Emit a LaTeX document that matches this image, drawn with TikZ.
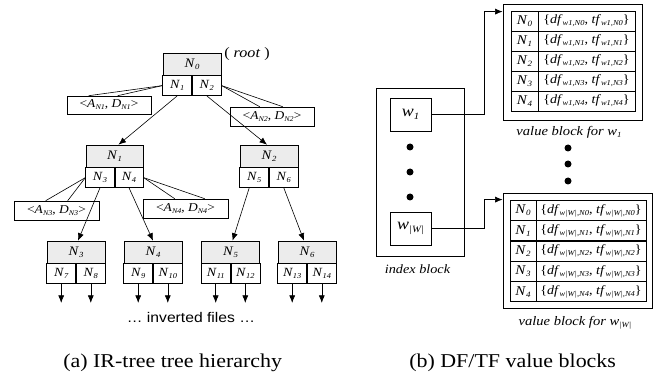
\documentclass[tikz,border=0pt]{standalone}
\usepackage{graphicx}
\usepackage{fontspec}
\setmainfont[FakeStretch=1.12]{Liberation Serif}
\setsansfont[FakeStretch=1.12]{Liberation Sans}
\usetikzlibrary{arrows.meta}
\newcommand\Ni[2]{\textit{#1}\raisebox{-0.35ex}{\scalebox{0.6}{\itshape #2}}}
\newcommand\TreeNode[7]{% name, cx, top, label, left, right, width
 \node[hdr, minimum width=#7] (#1) at (#2,#3+11) {#4};
 \node[cellbox, minimum width=#7/2, anchor=north east] (#1a) at (#1.south) {#5};
 \node[cellbox, minimum width=#7/2, anchor=north west] (#1b) at (#1.south) {#6};
}
\begin{document}
\begin{tikzpicture}[x=1pt,y=-1pt,
  line width=0.6pt,
  hdr/.style={draw, fill=gray!15, inner sep=0pt, minimum height=22pt, font=\fontsize{13}{14}\selectfont},
  cellbox/.style={draw, inner sep=0pt, minimum height=20pt, font=\fontsize{12.5}{14}\selectfont},
  callbox/.style={draw, fill=white, inner sep=0pt, font=\fontsize{12}{14}\selectfont},
  arr/.style={-{Latex[length=7.5pt,width=6pt]}},
  dot/.style={circle, fill=black, inner sep=0pt, minimum size=7pt},
  tcell/.style={draw, inner sep=0pt, minimum height=20pt, font=\fontsize{12.6}{14}\selectfont},
  lbl/.style={inner sep=0pt, font=\fontsize{13}{14}\selectfont\itshape}
]
\useasboundingbox (0,0) rectangle (659,374);

% ---------- tree ----------
\TreeNode{n0}{192}{53}{\Ni{N}{0}}{\Ni{N}{1}}{\Ni{N}{2}}{58}
\TreeNode{n1}{114.5}{145}{\Ni{N}{1}}{\Ni{N}{3}}{\Ni{N}{4}}{57}
\TreeNode{n2}{269}{145}{\Ni{N}{2}}{\Ni{N}{5}}{\Ni{N}{6}}{58}
\TreeNode{n3}{76}{241}{\Ni{N}{3}}{\Ni{N}{7}}{\Ni{N}{8}}{58}
\TreeNode{n4}{153}{241}{\Ni{N}{4}}{\Ni{N}{9}}{\Ni{N}{10}}{58}
\TreeNode{n5}{230.5}{241}{\Ni{N}{5}}{\Ni{N}{11}}{\Ni{N}{12}}{58}
\TreeNode{n6}{307}{241}{\Ni{N}{6}}{\Ni{N}{13}}{\Ni{N}{14}}{58}

\node[inner sep=0pt, font=\fontsize{14.4}{15}\selectfont] (root) at (247,54) {( \textit{root} )};

% callouts
\node[callbox, minimum width=84pt, minimum height=18pt] (c1) at (109,105) {\textless\Ni{A}{N1}, \Ni{D}{N1}\textgreater};
\node[callbox, minimum width=84pt, minimum height=19pt] (c2) at (272,116.5) {\textless\Ni{A}{N2}, \Ni{D}{N2}\textgreater};
\node[callbox, minimum width=85pt, minimum height=19pt] (c3) at (56.5,210.5) {\textless\Ni{A}{N3}, \Ni{D}{N3}\textgreater};
\node[callbox, minimum width=85pt, minimum height=19pt] (c4) at (185.5,208.5) {\textless\Ni{A}{N4}, \Ni{D}{N4}\textgreater};
\draw (n0a.west) -- ([xshift=22pt]c1.north west);
\draw (n0a.west) -- ([xshift=51pt]c1.north west);
\draw (n0b.east) -- ([xshift=30pt]c2.north west);
\draw (n0b.east) -- ([xshift=53pt]c2.north west);
\draw (n1a.west) -- ([xshift=32pt]c3.north west);
\draw (n1a.west) -- ([xshift=54pt]c3.north west);
\draw (n1b.east) -- ([xshift=32pt]c4.north west);
\draw (n1b.east) -- ([xshift=62pt]c4.north west);

% tree arrows
\draw[arr] (n0a.south) -- ([xshift=4pt]n1.north);
\draw[arr] (n0b.south) -- ([xshift=-2pt]n2.north);
\draw[arr] (n1a.south) -- ([xshift=2pt]n3.north);
\draw[arr] (n1b.south) -- (n4.north);
\draw[arr] ([xshift=-5pt]n2a.south) -- ([xshift=2pt]n5.north);
\draw[arr] (n2b.south) -- ([xshift=-3pt]n6.north);
\foreach \n in {n3,n4,n5,n6}{
  \draw[arr] (\n a.south) -- ++(0,19);
  \draw[arr] (\n b.south) -- ++(0,19);
}
\node[inner sep=0pt, font=\sffamily\fontsize{14}{15}\selectfont] (inv) at (191,317) {… inverted files …};

% ---------- index block ----------
\node[draw, minimum width=88pt, minimum height=168pt, inner sep=0pt] (idx) at (420,172) {};
\node[draw, minimum width=41pt, minimum height=33pt, inner sep=0pt, font=\fontsize{16}{18}\selectfont] (w1) at (410.5,114.5) {\Ni{w}{1}};
\node[draw, minimum width=41pt, minimum height=33pt, inner sep=0pt, font=\fontsize{16}{18}\selectfont] (wW) at (410.5,228.5) {\Ni{w}{|W|}};
\node[dot] (i1) at (410,147) {};
\node[dot] (i2) at (410,172) {};
\node[dot] (i3) at (410,197) {};
\node[lbl, font=\fontsize{12.7}{14}\selectfont\itshape] (idxl) at (417.5,269) {index block};

% ---------- value blocks ----------
\node[draw, line width=0.8pt, minimum width=139pt, minimum height=116pt, inner sep=0pt] (vb1) at (572.5,62) {};
\foreach \i in {0,...,4}{
  \node[tcell, minimum width=27pt, font=\fontsize{13.4}{14}\selectfont] (a\i) at (524.5,21+20*\i) {\Ni{N}{\i}};
  \node[tcell, minimum width=97pt] (b\i) at (586.5,21+20*\i) {\{\Ni{df}{w1,N\i}, \Ni{tf}{w1,N\i}\}};
}
\node[lbl] (vl1) at (569,132) {value block for \Ni{w}{1}};

\node[dot] (v1) at (568,148) {};
\node[dot] (v2) at (568,164) {};
\node[dot] (v3) at (568,181) {};

\node[draw, line width=0.8pt, minimum width=149pt, minimum height=115pt, inner sep=0pt] (vb2) at (577.5,250.5) {};
\foreach \i in {0,...,4}{
  \node[tcell, minimum width=26pt, font=\fontsize{13.4}{14}\selectfont] (p\i) at (523,210.5+20.3*\i) {\Ni{N}{\i}};
  \node[tcell, minimum width=110pt] (q\i) at (591,210.5+20.3*\i) {\{\Ni{df}{w|W|,N\i}, \Ni{tf}{w|W|,N\i}\}};
}
\node[lbl] (vl2) at (575,322.5) {value block for \Ni{w}{|W|}};

\draw[arr] (w1.east) -- ++(53,0) |- ([yshift=-8pt]vb1.north west);
\draw[arr] (wW.east) -- ++(53,0) |- ([yshift=-7pt]vb2.north west);

% ---------- captions ----------
\node[inner sep=0pt, anchor=base west, font=\fontsize{19.6}{21}\selectfont] (capa) at (63,367) {(a) IR-tree tree hierarchy};
\node[inner sep=0pt, anchor=base west, font=\fontsize{19.6}{21}\selectfont] (capb) at (409,367) {(b) DF/TF value blocks};
\end{tikzpicture}
\end{document}
